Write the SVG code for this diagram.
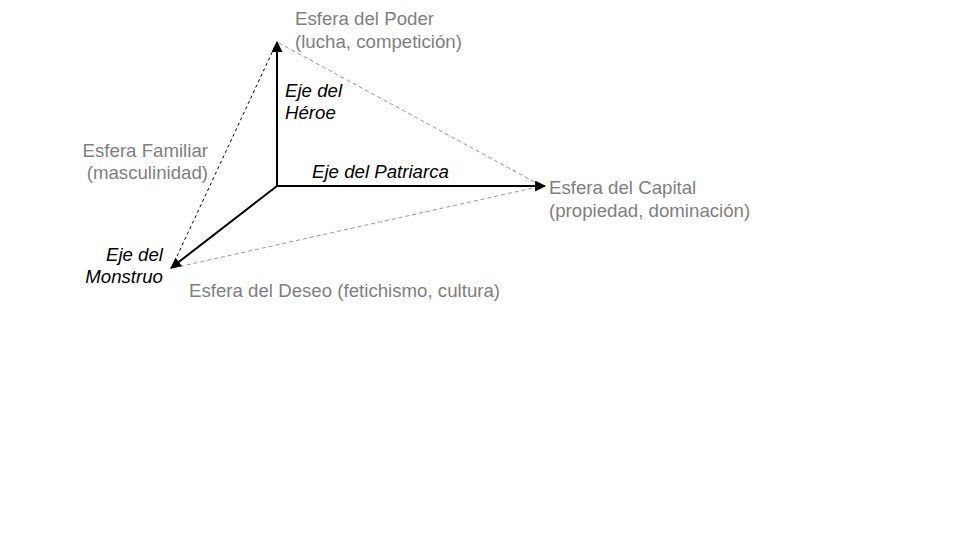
<svg xmlns="http://www.w3.org/2000/svg" width="960" height="540" viewBox="0 0 960 540">
<defs>
<style>
.sph{font-family:"Liberation Sans",Arial,sans-serif;font-size:18.67px;fill:#7f7f7f}
.ax{font-family:"Liberation Sans",Arial,sans-serif;font-size:18.67px;font-style:italic;fill:#000}
.axis{stroke:#000;stroke-width:2;fill:none}
.dk{stroke:#000;stroke-width:1;stroke-dasharray:3,3;fill:none}
.gr{stroke:#999;stroke-width:1;stroke-dasharray:4,3;fill:none}
</style>
<marker id="ah" viewBox="0 0 10 10" refX="9" refY="5" markerWidth="5.5" markerHeight="5.5" orient="auto" markerUnits="strokeWidth">
<path d="M0,0 L10,5 L0,10 z" fill="#000"/>
</marker>
</defs>
<rect width="960" height="540" fill="#fff"/>
<g id="connectors">
<line class="dk" x1="172" y1="267" x2="276" y2="44"/>
<line class="gr" x1="279" y1="43" x2="542" y2="186"/>
<line class="gr" x1="173" y1="268" x2="542" y2="186"/>
<line class="axis" x1="277" y1="186" x2="277" y2="42" marker-end="url(#ah)"/>
<line class="axis" x1="277" y1="186" x2="545" y2="186" marker-end="url(#ah)"/>
<line class="axis" x1="277" y1="186" x2="171" y2="268" marker-end="url(#ah)"/>
</g>
<g id="poder"><text class="sph" x="295" y="25">Esfera del Poder</text><text class="sph" x="295" y="48">(lucha, competición)</text></g>
<g id="heroe"><text class="ax" x="285" y="97">Eje del</text><text class="ax" x="285" y="119">Héroe</text></g>
<g id="familiar"><text class="sph" x="208" y="157" text-anchor="end">Esfera Familiar</text><text class="sph" x="208" y="179" text-anchor="end">(masculinidad)</text></g>
<g id="patriarca"><text class="ax" x="312" y="178">Eje del Patriarca</text></g>
<g id="capital"><text class="sph" x="549" y="194">Esfera del Capital</text><text class="sph" x="549" y="217">(propiedad, dominación)</text></g>
<g id="monstruo"><text class="ax" x="163" y="261" text-anchor="end">Eje del</text><text class="ax" x="163" y="283" text-anchor="end">Monstruo</text></g>
<g id="deseo"><text class="sph" x="189" y="297">Esfera del Deseo (fetichismo, cultura)</text></g>
</svg>
